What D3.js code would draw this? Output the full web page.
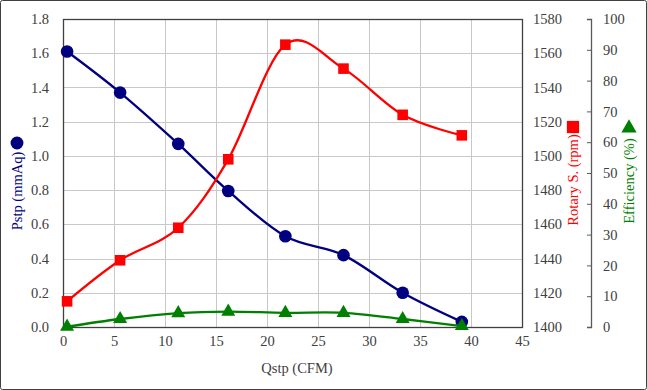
<!DOCTYPE html>
<html>
<head>
<meta charset="utf-8">
<script src="https://cdn.jsdelivr.net/npm/d3@7"></script>
<style>
    body { margin: 0; background: #fff; }
    svg { display: block; font-family: "Liberation Serif", "DejaVu Serif", serif; }
    .grid line { stroke: #c8c8c8; stroke-width: 1; }
    .axis path, .axis line { stroke: #595959; }
</style>
</head>
<body>
<script>
(function(){
    //chart data
    var qstp = [0.4, 5.6, 11.3, 16.2, 21.8, 27.5, 33.3, 39.1]; //x values (CFM)
    var pstp = [1.61, 1.37, 1.07, 0.795, 0.53, 0.42, 0.20, 0.03]; //static pressure (mmAq)
    var rpm = [1415, 1439, 1458, 1498, 1565, 1551, 1524, 1512]; //rotary speed (rpm)
    var eff = [0.1, 2.6, 4.5, 5.0, 4.6, 4.6, 2.6, 0.3]; //efficiency (%)

    var xTicks = [0, 5, 10, 15, 20, 25, 30, 35, 40, 45];
    var pTicks = [0, 0.2, 0.4, 0.6, 0.8, 1.0, 1.2, 1.4, 1.6, 1.8];
    var rTicks = [1400, 1420, 1440, 1460, 1480, 1500, 1520, 1540, 1560, 1580];
    var eTicks = [0, 10, 20, 30, 40, 50, 60, 70, 80, 90, 100];

    window.onload = setChart();

    function setChart(){
        var width = 647,
            height = 390,
            left = 63,
            right = 522,
            top = 19,
            bottom = 327,
            serif = "'Liberation Serif', 'DejaVu Serif', serif";

        var svg = d3.select("body")
            .append("svg")
            .attr("width", width)
            .attr("height", height);

        //outer border
        svg.append("rect")
            .attr("x", 0.5)
            .attr("y", 0.5)
            .attr("width", width - 1)
            .attr("height", height - 1)
            .attr("rx", 2)
            .style("fill", "#fff")
            .style("stroke", "#404040")
            .style("stroke-width", 1);

        //scales
        var x = d3.scaleLinear().domain([0, 45]).range([left, right]);
        var yP = d3.scaleLinear().domain([0, 1.8]).range([bottom, top]);
        var yR = d3.scaleLinear().domain([1400, 1580]).range([bottom, top]);
        var yE = d3.scaleLinear().domain([0, 100]).range([bottom, top]);

        //grid lines
        var grid = svg.append("g").attr("class", "grid");
        grid.selectAll(".gx")
            .data(xTicks.slice(1, -1))
            .enter()
            .append("line")
            .attr("x1", function(d){ return Math.round(x(d)) + 0.5; })
            .attr("x2", function(d){ return Math.round(x(d)) + 0.5; })
            .attr("y1", top)
            .attr("y2", bottom);
        grid.selectAll(".gy")
            .data(pTicks.slice(1))
            .enter()
            .append("line")
            .attr("x1", left)
            .attr("x2", right)
            .attr("y1", function(d){ return Math.round(yP(d)) + 0.5; })
            .attr("y2", function(d){ return Math.round(yP(d)) + 0.5; });

        //plot frame
        svg.append("rect")
            .attr("x", left + 0.5)
            .attr("y", top + 0.5)
            .attr("width", right - left)
            .attr("height", bottom - top)
            .style("fill", "none")
            .style("stroke", "#404040")
            .style("stroke-width", 1.3);

        //axes
        var xAxis = svg.append("g")
            .attr("class", "axis")
            .attr("transform", "translate(0," + bottom + ")")
            .call(d3.axisBottom(x).tickValues(xTicks).tickSize(0).tickPadding(9).tickFormat(d3.format("d")));
        xAxis.select(".domain").remove();

        var pAxis = svg.append("g")
            .attr("class", "axis")
            .attr("transform", "translate(" + left + ",0)")
            .call(d3.axisLeft(yP).tickValues(pTicks).tickSize(0).tickPadding(14).tickFormat(d3.format(".1f")));
        pAxis.select(".domain").remove();

        var rAxis = svg.append("g")
            .attr("class", "axis")
            .attr("transform", "translate(" + right + ",0)")
            .call(d3.axisRight(yR).tickValues(rTicks).tickSize(0).tickPadding(11).tickFormat(d3.format("d")));
        rAxis.select(".domain").remove();

        var eAxis = svg.append("g")
            .attr("class", "axis")
            .attr("transform", "translate(591,0)")
            .call(d3.axisRight(yE).tickValues(eTicks).tickSizeInner(-4).tickSizeOuter(-4).tickPadding(12).tickFormat(d3.format("d")));
        eAxis.select(".domain").style("stroke-width", 1.3);

        //serif tick labels, like the original
        svg.selectAll(".axis")
            .attr("font-family", null)
            .attr("font-size", null)
            .selectAll("text")
            .style("font-family", serif)
            .style("font-size", "14.5px")
            .style("fill", "#404040");

        //series
        var seriesList = [
            {vals: pstp, y: yP, color: "#000080", shape: d3.symbolCircle, size: 125},
            {vals: rpm, y: yR, color: "#ff0000", shape: d3.symbolSquare, size: 112},
            {vals: eff, y: yE, color: "#008000", shape: d3.symbolTriangle, size: 85}
        ];

        seriesList.forEach(function(s){
            var pts = qstp.map(function(q, i){ return [q, s.vals[i]]; });
            var line = d3.line()
                .x(function(d){ return x(d[0]); })
                .y(function(d){ return s.y(d[1]); })
                .curve(d3.curveCatmullRom.alpha(0));

            svg.append("path")
                .datum(pts)
                .attr("d", line)
                .style("fill", "none")
                .style("stroke", s.color)
                .style("stroke-width", 2.3);

            svg.selectAll(null)
                .data(pts)
                .enter()
                .append("path")
                .attr("d", d3.symbol().type(s.shape).size(s.size))
                .attr("transform", function(d){
                    return "translate(" + x(d[0]) + "," + s.y(d[1]) + ")";
                })
                .style("fill", s.color);
        });

        //axis titles
        svg.append("text")
            .attr("x", 297)
            .attr("y", 373)
            .attr("text-anchor", "middle")
            .style("font-family", serif)
            .style("font-size", "14.5px")
            .style("fill", "#404040")
            .text("Qstp (CFM)");

        var titles = [
            {text: "Pstp (mmAq)", x: 17, y: 191, color: "#000080", shape: d3.symbolCircle, size: 130, my: 143},
            {text: "Rotary S. (rpm)", x: 573, y: 180, color: "#ff0000", shape: d3.symbolSquare, size: 150, my: 127},
            {text: "Efficiency (%)", x: 629, y: 181, color: "#008000", shape: d3.symbolTriangle, size: 100, my: 128}
        ];
        titles.forEach(function(t){
            svg.append("text")
                .attr("transform", "translate(" + t.x + "," + t.y + ") rotate(-90)")
                .attr("text-anchor", "middle")
                .attr("dy", "0.35em")
                .style("font-family", serif)
                .style("font-size", "14.5px")
                .style("fill", t.color)
                .text(t.text);
            svg.append("path")
                .attr("d", d3.symbol().type(t.shape).size(t.size))
                .attr("transform", "translate(" + t.x + "," + t.my + ")")
                .style("fill", t.color);
        });
    };
})();
</script>
</body>
</html>
